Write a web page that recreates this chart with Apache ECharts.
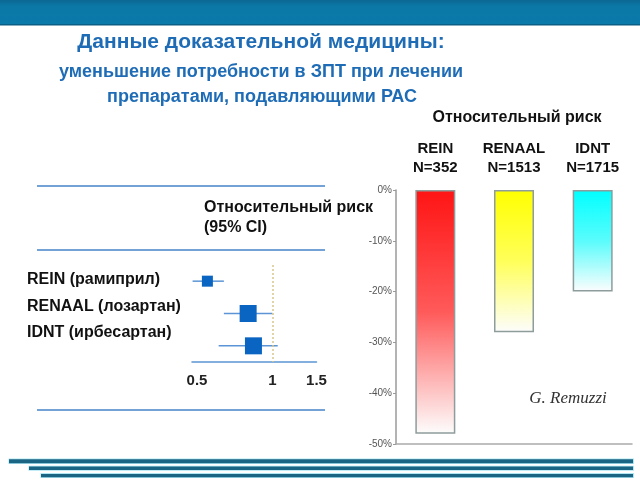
<!DOCTYPE html>
<html><head><meta charset="utf-8">
<script src="https://cdn.jsdelivr.net/npm/echarts@6/dist/echarts.min.js"></script>
<style>html,body{margin:0;padding:0;background:#fff}#c{width:640px;height:480px}</style>
</head><body><div id="c"></div>
<script>
// ---- data ----
const titleLines = ['Данные доказательной медицины:', 'уменьшение потребности в ЗПТ при лечении', 'препаратами, подавляющими РАС'];
const forestStudies = ['REIN (рамиприл)', 'RENAAL (лозартан)', 'IDNT (ирбесартан)'];
const forestRR = [0.55, 0.80, 0.84];
const forestLow = [0.48, 0.64, 0.61];
const forestHigh = [0.64, 1.00, 1.05];
const forestWeight = [11, 17, 17];
const forestTicks = [0.5, 1, 1.5];
const forestHeader = 'Относительный риск\n(95% CI)';
const barStudies = ['REIN', 'RENAAL', 'IDNT'];
const barN = ['N=352', 'N=1513', 'N=1715'];
const barValues = [-48, -28, -20];
const barColors = ['#ff1414', '#ffff00', '#00ffff'];
const barMidColors = ['#ff5a5a', '#ffff5a', '#5afcfc'];
const barHeader = 'Относительный риск';
const barAxisTicks = [0, -10, -20, -30, -40, -50];
const author = 'G. Remuzzi';

const lg = v => Math.log10(v);
const chart = echarts.init(document.getElementById('c'), null, {renderer: 'canvas'});
const FF = 'Liberation Sans, Arial, sans-serif';

const graphic = [
  {type: 'rect', shape: {x: 0, y: 0, width: 640, height: 25}, style: {fill: new echarts.graphic.LinearGradient(0, 0, 0, 1, [{offset: 0, color: '#0d6793'}, {offset: 0.25, color: '#0b78a6'}, {offset: 1, color: '#0a7aab'}])}},
  {type: 'rect', shape: {x: 0, y: 24, width: 640, height: 1.5}, style: {fill: '#0b5f86'}},
  {type: 'text', x: 261, y: 42, style: {text: titleLines[0], font: 'bold 21px ' + FF, fill: '#1f6cb6', align: 'center', verticalAlign: 'middle'}},
  {type: 'text', x: 261, y: 72, style: {text: titleLines[1], font: 'bold 18px ' + FF, fill: '#1f6cb6', align: 'center', verticalAlign: 'middle'}},
  {type: 'text', x: 262, y: 97, style: {text: titleLines[2], font: 'bold 18px ' + FF, fill: '#1f6cb6', align: 'center', verticalAlign: 'middle'}},
  {type: 'text', x: 517, y: 118, style: {text: barHeader, font: 'bold 16px ' + FF, fill: '#111', align: 'center', verticalAlign: 'middle'}},
  {type: 'text', x: 204, y: 198, style: {text: forestHeader, font: 'bold 16px ' + FF, fill: '#111', lineHeight: 20, align: 'left', verticalAlign: 'top'}},
  {type: 'line', shape: {x1: 37, y1: 186, x2: 325, y2: 186}, style: {stroke: '#72a2d6', lineWidth: 2}},
  {type: 'line', shape: {x1: 37, y1: 250, x2: 325, y2: 250}, style: {stroke: '#72a2d6', lineWidth: 2}},
  {type: 'line', shape: {x1: 37, y1: 410, x2: 325, y2: 410}, style: {stroke: '#72a2d6', lineWidth: 2}},
  {type: 'text', x: 568, y: 399, style: {text: author, font: 'italic 17px "Liberation Serif", serif', fill: '#333', align: 'center', verticalAlign: 'middle'}}
];
const forestLabelY = [280, 307, 333];
forestStudies.forEach((s, i) => graphic.push({type: 'text', x: 27, y: forestLabelY[i], style: {text: s, font: 'bold 16px ' + FF, fill: '#111', align: 'left', verticalAlign: 'middle'}}));
[[9, 461.3, 4], [29, 468.3, 3.4], [41, 475.6, 3.4]].forEach(([x, y, h]) => {
  graphic.push({type: 'rect', shape: {x: x - 0.5, y: y - h / 2 - 0.8, width: 633.5 - x + 1, height: h + 1.6}, style: {fill: '#aee6f4'}});
  graphic.push({type: 'rect', shape: {x: x, y: y - h / 2, width: 633 - x, height: h}, style: {fill: '#1a6584'}});
});

const option = {
  animation: false,
  backgroundColor: '#fff',
  graphic: graphic,
  grid: [
    {left: 192, top: 265, width: 124.5, height: 97},
    {left: 396, top: 190, width: 236, height: 254}
  ],
  xAxis: [
    {gridIndex: 0, type: 'value', min: lg(0.5) - 5 / 249.1, max: lg(1.5),
     axisLine: {show: true, onZero: false, lineStyle: {color: '#5b95d5', width: 1.5}}, axisTick: {show: false}, splitLine: {show: false},
     axisLabel: {customValues: forestTicks.map(lg), margin: 11, fontSize: 15, fontWeight: 'bold', color: '#222', fontFamily: FF,
       formatter: v => { let best = forestTicks[0]; forestTicks.forEach(t => { if (Math.abs(lg(t) - v) < Math.abs(lg(best) - v)) best = t; }); return String(best); }}},
    {gridIndex: 1, type: 'category', position: 'top', data: barStudies.map((s, i) => s + '\n' + barN[i]),
     axisLine: {show: false}, axisTick: {show: false},
     axisLabel: {interval: 0, margin: 13, fontSize: 15, fontWeight: 'bold', color: '#111', lineHeight: 19, fontFamily: FF}},
    {gridIndex: 1, type: 'category', position: 'bottom', data: barStudies,
     axisLine: {onZero: false, lineStyle: {color: '#aaaaaa', width: 1.5}}, axisTick: {show: false}, axisLabel: {show: false}}
  ],
  yAxis: [
    {gridIndex: 0, type: 'category', data: forestStudies, inverse: true, show: false},
    {gridIndex: 1, type: 'value', min: barAxisTicks[barAxisTicks.length - 1], max: barAxisTicks[0], interval: 10,
     axisLine: {show: true, lineStyle: {color: '#9a9a9a', width: 1.5}}, axisTick: {show: true, length: 3, lineStyle: {color: '#9a9a9a'}},
     splitLine: {show: false}, axisLabel: {formatter: '{value}%', fontSize: 10, color: '#555', margin: 4, fontFamily: FF}}
  ],
  series: [
    {type: 'custom', xAxisIndex: 0, yAxisIndex: 0,
     data: forestStudies.map((s, i) => [lg(forestLow[i]), lg(forestHigh[i]), i]),
     encode: {x: [0, 1], y: 2},
     renderItem: (params, api) => {
       const a = api.coord([api.value(0), api.value(2)]);
       const b = api.coord([api.value(1), api.value(2)]);
       return {type: 'line', shape: {x1: a[0], y1: a[1], x2: b[0], y2: b[1]}, style: {stroke: '#5b95d5', lineWidth: 1.5}};
     }, z: 2},
    {type: 'scatter', xAxisIndex: 0, yAxisIndex: 0, symbol: 'rect',
     data: forestStudies.map((s, i) => ({value: [lg(forestRR[i]), i], symbolSize: forestWeight[i]})),
     itemStyle: {color: '#0a64c2', opacity: 1}, z: 3,
     markLine: {silent: true, symbol: 'none', label: {show: false}, lineStyle: {type: [2, 2], color: '#d6c68c', width: 1.5},
       data: [{xAxis: lg(1)}]}},
    {type: 'bar', xAxisIndex: 1, yAxisIndex: 1, barWidth: 40,
     data: barValues.map((v, i) => ({value: v, itemStyle: {
       color: new echarts.graphic.LinearGradient(0, 0, 0, 1, [{offset: 0, color: barColors[i]}, {offset: 0.5, color: barMidColors[i]}, {offset: 1, color: '#fdfdfd'}]),
       borderColor: '#8e9c9c', borderWidth: 1.5}}))}
  ]
};
chart.setOption(option);
</script></body></html>
